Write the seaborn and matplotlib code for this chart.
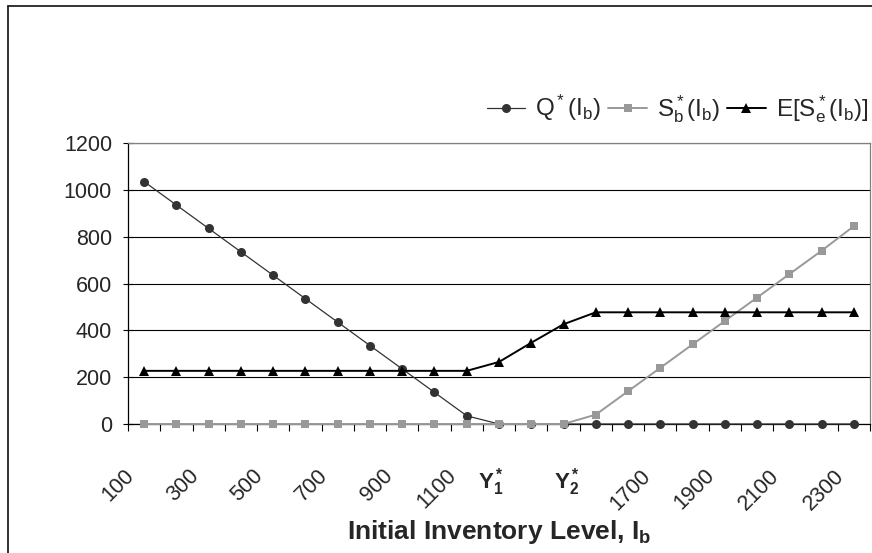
import numpy as np
import pandas as pd
import matplotlib
matplotlib.use("Agg")
import matplotlib.pyplot as plt
import seaborn as sns
from matplotlib.transforms import ScaledTranslation, blended_transform_factory
from matplotlib.lines import Line2D

# ---------------- data ----------------
levels = [100, 200, 300, 400, 500, 600, 700, 800, 900, 1000, 1100, 1200,
          1300, 1400, 1500, 1600, 1700, 1800, 1900, 2000, 2100, 2200, 2300]
q_star = [1035, 935, 835, 735, 635, 535, 435, 335, 235, 135, 35, 0,
          0, 0, 0, 0, 0, 0, 0, 0, 0, 0, 0]
sb_star = [0, 0, 0, 0, 0, 0, 0, 0, 0, 0, 0, 0,
           0, 0, 40, 140, 240, 340, 440, 540, 640, 740, 845]
e_se_star = [227, 227, 227, 227, 227, 227, 227, 227, 227, 227, 227, 265,
             347, 426, 477, 477, 477, 477, 477, 477, 477, 477, 477]
tick_labels = ["100", "", "300", "", "500", "", "700", "", "900", "", "1100", "",
               "", "", "", "", "1700", "", "1900", "", "2100", "", "2300"]
y1_label = r"$\mathbf{Y_1^*}$"
y2_label = r"$\mathbf{Y_2^*}$"
series_labels = [r"Q$^*$(I$_\mathregular{b}$)",
                 r"S$_\mathregular{b}^*$(I$_\mathregular{b}$)",
                 r"E[S$_\mathregular{e}^*$(I$_\mathregular{b}$)]"]
x_title = r"Initial Inventory Level, I$_\mathbf{b}$"
y_ticks = [0, 200, 400, 600, 800, 1000, 1200]

df = pd.DataFrame({"pos": np.arange(len(levels)), "level": levels,
                   "q": q_star, "sb": sb_star, "e": e_se_star})

# ---------------- style ----------------
sns.set_style("white")
plt.rcParams["font.family"] = ["Liberation Sans", "DejaVu Sans"]
plt.rcParams["mathtext.fontset"] = "custom"
plt.rcParams["mathtext.rm"] = "Liberation Sans"
plt.rcParams["mathtext.it"] = "Liberation Sans:italic"
plt.rcParams["mathtext.bf"] = "Liberation Sans:bold"
plt.rcParams["mathtext.default"] = "regular"

fig = plt.figure(figsize=(8.72, 5.53), dpi=100)
fig.patch.set_facecolor("white")
ax = fig.add_axes([128 / 872, 1 - 424 / 553, 742 / 872, 281 / 553])

sns.lineplot(data=df, x="pos", y="q", ax=ax, color="#333333", lw=0.9,
             marker="o", markersize=6.5, markeredgewidth=0,
             markerfacecolor="#333333", label=series_labels[0], clip_on=False, zorder=3)
sns.lineplot(data=df, x="pos", y="sb", ax=ax, color="#999999", lw=1.4,
             marker="s", markersize=5.8, markeredgewidth=0,
             markerfacecolor="#999999", label=series_labels[1], clip_on=False, zorder=4)
sns.lineplot(data=df, x="pos", y="e", ax=ax, color="black", lw=1.4,
             marker="^", markersize=7.5, markeredgewidth=0,
             markerfacecolor="black", label=series_labels[2], clip_on=False, zorder=5)

ax.set_xlim(-0.5, len(levels) - 0.5)
ax.set_ylim(0, 1200)
ax.set_yticks(y_ticks)
ax.set_yticklabels([str(v) for v in y_ticks])
ax.yaxis.grid(True, color="black", lw=0.8)
ax.set_axisbelow(True)

# x: major ticks at category boundaries, labels at category centres
ax.set_xticks(np.arange(-0.5, len(levels), 1.0))
ax.set_xticklabels([])
ax.set_xticks(df["pos"], minor=True)
ax.set_xticklabels(tick_labels, minor=True)
ax.tick_params(axis="x", which="major", length=5, width=0.8, direction="out",
               color="black", bottom=True)
ax.tick_params(axis="x", which="minor", length=0, labelsize=15.5, pad=35)
ax.tick_params(axis="y", which="major", length=7, width=0.8, direction="inout",
               color="black", left=True, labelsize=15.5, pad=8)
shift = ScaledTranslation(-13 / 100, 0, fig.dpi_scale_trans)
for lbl in ax.get_xticklabels(minor=True):
    lbl.set_rotation(45)
    lbl.set_ha("right")
    lbl.set_va("center")
    lbl.set_rotation_mode("anchor")
    lbl.set_transform(lbl.get_transform() + shift)

ax.set_xlabel(x_title, fontsize=19, fontweight="bold", labelpad=0)
ax.xaxis.label.set_va("center")
ax.xaxis.set_label_coords(0.5, -0.385)
ax.set_ylabel("")

trans = blended_transform_factory(ax.transData, ax.transAxes)
ax.text(11.15, -0.228, y1_label, transform=trans, ha="right", va="baseline",
        fontsize=16)
ax.text(13.5, -0.228, y2_label, transform=trans, ha="right", va="baseline",
        fontsize=16)

for side in ["left", "bottom"]:
    ax.spines[side].set_color("black")
    ax.spines[side].set_linewidth(0.9)
for side in ["top", "right"]:
    ax.spines[side].set_color("#808080")
    ax.spines[side].set_linewidth(0.9)

leg = ax.legend(loc="center right", bbox_to_anchor=(868 / 872, 1 - 109 / 553),
                bbox_transform=fig.transFigure, ncol=3, frameon=False,
                fontsize=17.5, handlelength=1.6, handletextpad=0.4,
                columnspacing=0.3, borderpad=0, borderaxespad=0)

# chart-area border (left and top edges visible)
fig.add_artist(Line2D([7.5 / 872, 7.5 / 872], [0, 1 - 5.5 / 553],
                      transform=fig.transFigure, color="#222222", lw=1.3))
fig.add_artist(Line2D([7.5 / 872, 1], [1 - 5.5 / 553, 1 - 5.5 / 553],
                      transform=fig.transFigure, color="#222222", lw=1.3))

fig.savefig("out.png", dpi=100, facecolor="white")
